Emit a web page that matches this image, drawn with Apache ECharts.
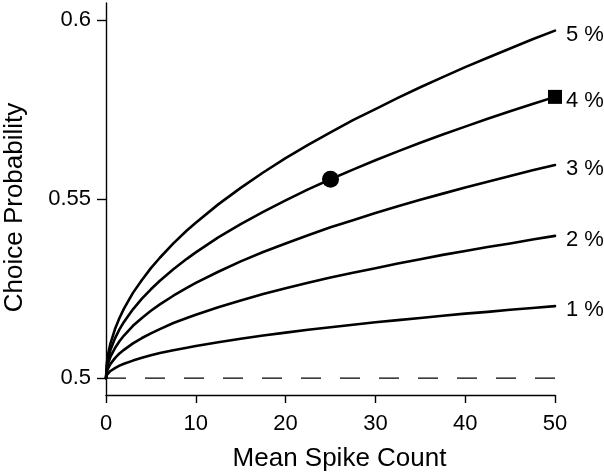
<!DOCTYPE html>
<html>
<head>
<meta charset="utf-8">
<script src="https://cdn.jsdelivr.net/npm/echarts@6/dist/echarts.min.js"></script>
<style>
html,body{margin:0;padding:0;background:#fff;}
#chart{width:604px;height:474px;}
</style>
</head>
<body>
<div id="chart"></div>
<script>
// Mean spike count sample positions
const spikeCounts = [0, 0.1, 0.25, 0.5, 1, 1.5, 2, 3, 4, 5, 6, 7.5, 9, 10, 12.5, 15, 17.5, 20, 22.5, 25, 27.5, 30, 32.5, 35, 37.5, 40, 42.5, 45, 47.5, 50];
// Choice probability curves
const cp5 = [0.5, 0.5043, 0.5069, 0.5097, 0.5137, 0.5168, 0.5194, 0.5238, 0.5274, 0.5307, 0.5336, 0.5376, 0.5412, 0.5434, 0.5485, 0.5531, 0.5574, 0.5614, 0.5651, 0.5686, 0.5720, 0.5751, 0.5782, 0.5812, 0.5840, 0.5868, 0.5894, 0.5920, 0.5946, 0.5970];
const cp4 = [0.5, 0.5035, 0.5056, 0.5079, 0.5111, 0.5136, 0.5157, 0.5192, 0.5222, 0.5248, 0.5272, 0.5304, 0.5333, 0.5351, 0.5393, 0.5430, 0.5464, 0.5496, 0.5527, 0.5555, 0.5582, 0.5608, 0.5633, 0.5657, 0.5680, 0.5702, 0.5724, 0.5745, 0.5765, 0.5785];
const cp3 = [0.5, 0.5027, 0.5042, 0.5060, 0.5084, 0.5103, 0.5119, 0.5146, 0.5168, 0.5188, 0.5206, 0.5230, 0.5252, 0.5266, 0.5297, 0.5326, 0.5352, 0.5376, 0.5399, 0.5421, 0.5441, 0.5461, 0.5480, 0.5498, 0.5515, 0.5532, 0.5548, 0.5564, 0.5580, 0.5595];
const cp2 = [0.5, 0.5018, 0.5028, 0.5040, 0.5056, 0.5069, 0.5079, 0.5097, 0.5112, 0.5125, 0.5137, 0.5154, 0.5168, 0.5177, 0.5198, 0.5217, 0.5235, 0.5251, 0.5266, 0.5281, 0.5294, 0.5307, 0.5320, 0.5332, 0.5344, 0.5355, 0.5366, 0.5376, 0.5387, 0.5397];
const cp1 = [0.5, 0.5009, 0.5014, 0.5020, 0.5028, 0.5035, 0.5040, 0.5049, 0.5057, 0.5064, 0.5070, 0.5078, 0.5085, 0.5090, 0.5100, 0.5110, 0.5119, 0.5127, 0.5135, 0.5142, 0.5149, 0.5156, 0.5162, 0.5168, 0.5174, 0.5180, 0.5185, 0.5191, 0.5196, 0.5201];
const curveNames = ['5 %', '4 %', '3 %', '2 %', '1 %'];
// Chance level
const chanceX = [0, 50];
const chanceY = [0.5, 0.5];
// Highlighted points
const circlePoint = [25, 0.5555];
const squarePoint = [50, 0.5785];
// Tick labels
const yTicks = [0.5, 0.55, 0.6];
const xTicks = [0, 10, 20, 30, 40, 50];

const FONT = 'Liberation Sans';
const curves = [cp5, cp4, cp3, cp2, cp1];

const lineSeries = curves.map((vals, i) => ({
  type: 'line',
  name: curveNames[i],
  data: spikeCounts.map((x, j) => [x, vals[j]]),
  smooth: false,
  showSymbol: false,
  symbol: 'none',
  lineStyle: { color: '#000', width: 2.6, join: 'round', cap: 'round' },
  endLabel: {
    show: true,
    formatter: curveNames[i],
    color: '#000',
    fontFamily: FONT,
    fontSize: 22,
    distance: 11,
    offset: [0, 4]
  },
  emphasis: { disabled: true },
  z: 3
}));

const chart = echarts.init(document.getElementById('chart'), null, { renderer: 'canvas' });
chart.setOption({
  animation: false,
  backgroundColor: '#fff',
  grid: { left: 106, right: 49, top: 3, bottom: 79, containLabel: false, outerBoundsMode: 'none' },
  xAxis: {
    type: 'value',
    min: 0, max: 50, interval: 10,
    name: 'Mean Spike Count',
    nameLocation: 'middle',
    nameGap: 51,
    nameTextStyle: { fontFamily: FONT, fontSize: 26, color: '#000', padding: [0, 0, 0, 18] },
    axisLine: { show: true, onZero: false, lineStyle: { color: '#000', width: 1.4 } },
    axisTick: { show: true, inside: false, length: 8, lineStyle: { color: '#000', width: 1.4 }, customValues: xTicks },
    axisLabel: { customValues: xTicks, fontFamily: FONT, fontSize: 22, color: '#000', margin: 18 },
    splitLine: { show: false }
  },
  yAxis: {
    type: 'value',
    min: 0.4953, max: 0.6047,
    name: 'Choice Probability',
    nameLocation: 'middle',
    nameGap: 78,
    nameRotate: 90,
    nameTextStyle: { fontFamily: FONT, fontSize: 26, color: '#000', padding: [0, 17, 0, 0] },
    axisLine: { show: true, onZero: false, lineStyle: { color: '#000', width: 1.4 } },
    axisTick: { show: true, inside: false, length: 9, lineStyle: { color: '#000', width: 1.4 }, customValues: yTicks },
    axisLabel: {
      customValues: yTicks,
      formatter: v => String(+v.toFixed(2)),
      fontFamily: FONT, fontSize: 22, color: '#000', margin: 15
    },
    splitLine: { show: false }
  },
  series: [
    {
      type: 'line',
      data: chanceX.map((x, i) => [x, chanceY[i]]),
      showSymbol: false,
      symbol: 'none',
      lineStyle: { color: '#000', width: 1.4, type: [20, 19] },
      emphasis: { disabled: true },
      z: 2
    },
    ...lineSeries,
    {
      type: 'scatter',
      data: [circlePoint],
      symbol: 'circle',
      symbolSize: 17,
      itemStyle: { color: '#000', opacity: 1 },
      emphasis: { disabled: true },
      z: 5
    },
    {
      type: 'scatter',
      data: [squarePoint],
      symbol: 'rect',
      symbolSize: 14,
      itemStyle: { color: '#000', opacity: 1 },
      emphasis: { disabled: true },
      z: 5
    }
  ]
});
</script>
</body>
</html>
